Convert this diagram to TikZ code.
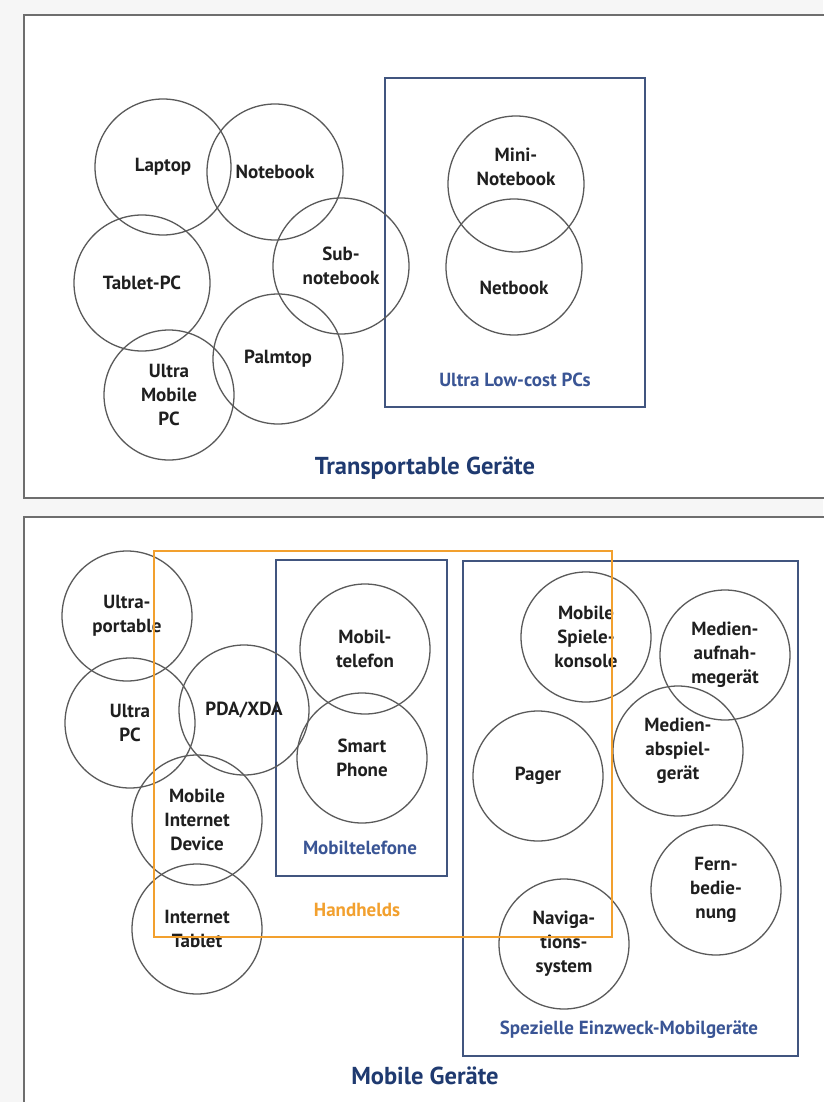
\documentclass[tikz,border=0pt]{standalone}
\usepackage{fontspec}
\setmainfont{PT Sans}
\usetikzlibrary{positioning}
\definecolor{ringgray}{HTML}{5A5A5A}
\definecolor{boxblue}{HTML}{41557F}
\definecolor{labelblue}{HTML}{3A5595}
\definecolor{titleblue}{HTML}{1F3A70}
\definecolor{handorange}{HTML}{F2A02E}
\definecolor{framegray}{HTML}{6E6E6E}
\begin{document}
\begin{tikzpicture}[x=1pt,y=-1pt,
  devtext/.style={align=center,font=\fontsize{19}{24}\selectfont\bfseries,text=black!88},
  dev/.style={devtext,draw=ringgray,line width=1.3pt,circle,minimum size=130pt,inner sep=0pt},
  big/.style={dev,minimum size=136pt},
  grp/.style={font=\fontsize{19}{24}\selectfont\bfseries,text=labelblue},
  heading/.style={font=\fontsize{24.5}{28}\selectfont\bfseries,text=titleblue},
  panel/.style={draw=framegray,line width=1.6pt,fill=white},
  setbox/.style={draw=boxblue,line width=1.2pt}]
\useasboundingbox (0,0) rectangle (823,1102);
\fill[gray!7] (0,0) rectangle (823,1102);
\draw[panel] (24,15) rectangle (830,498);
\draw[panel] (24,517) rectangle (830,1115);

\draw[setbox] (385,78) rectangle (645,407);
\node[big] (lap) at (163,167) {Laptop};
\node[big] (nb) at (275,172) {Notebook};
\node[big] (tab) at (142,283) {Tablet-PC};
\node[big] (sub) at (341,266) {Sub-\\notebook};
\node[dev] (palm) at (278,359) {Palmtop};
\node[dev] (umpc) at (169,395) {Ultra\\Mobile\\PC};
\node[big] (mini) at (516,184) {};
\node[big] (net) at (514,267) {};
\node[devtext] at ([yshift=17pt]mini.center) {Mini-\\Notebook};
\node[devtext] at ([yshift=-21pt]net.center) {Netbook};
\node[grp] (ulc) at (515,380) {Ultra Low-cost PCs};
\node[heading] (tg) at (425,468) {Transportable Geräte};

\draw[setbox] (276,560) rectangle (447,876);
\draw[setbox] (463,561) rectangle (798,1056);
\node[dev] (upo) at (127,616) {Ultra-\\portable};
\node[dev] (upc) at (130,723) {Ultra\\PC};
\node[dev] (pda) at (244,710) {PDA/XDA};
\node[dev] (mobtel) at (365,649) {Mobil-\\telefon};
\node[dev] (smart) at (362,758) {Smart\\Phone};
\node[dev] (mid) at (197,820) {Mobile\\Internet\\Device};
\node[dev] (itab) at (197,929) {Internet\\Tablet};
\node[dev] (game) at (586,637) {Mobile\\Spiele-\\konsole};
\node[dev] (rec) at (725,655) {Medien-\\aufnah-\\megerät};
\node[dev] (play) at (678,751) {Medien-\\abspiel-\\gerät};
\node[dev] (pager) at (538,776) {Pager};
\node[dev] (remote) at (716,890) {Fern-\\bedie-\\nung};
\node[dev] (navi) at (564,944) {Naviga-\\tions-\\system};
\draw[handorange,line width=1.8pt] (154,551) rectangle (612,937);
\node[grp] (mt) at (360,848) {Mobiltelefone};
\node[grp,text=handorange] (hh) at (357,910) {Handhelds};
\node[grp] (spez) at (629,1030) {Spezielle Einzweck-Mobilgeräte};
\node[heading] (mg) at (425,1076) {Mobile Geräte};
\end{tikzpicture}
\end{document}
